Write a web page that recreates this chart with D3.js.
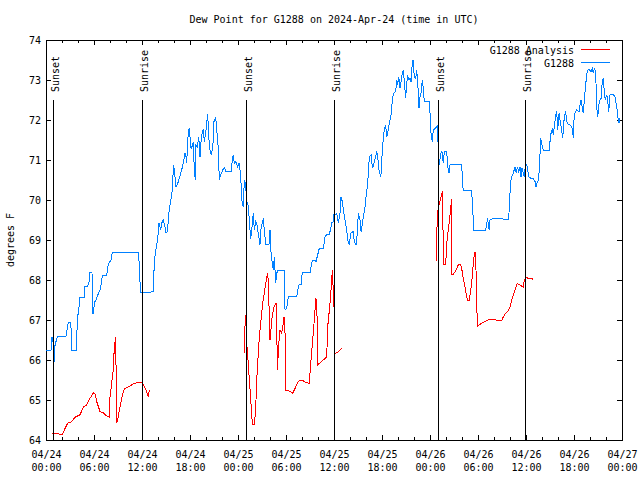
<!DOCTYPE html>
<html><head><meta charset="utf-8">
<script src="https://cdn.jsdelivr.net/npm/d3@7"></script>
<style>
body{margin:0;background:#fff;}
svg{display:block;font-family:"DejaVu Sans Mono",monospace;font-size:10px;}
</style></head><body>
<svg id="c" width="640" height="480"></svg>
<script>
// ---------------- DATA ----------------
const chartTitle = "Dew Point for G1288 on 2024-Apr-24 (time in UTC)";
const yAxisLabel = "degrees F";
const startUTC = Date.UTC(2024, 3, 24, 0, 0);
const endUTC = Date.UTC(2024, 3, 27, 0, 0);
const yTickValues = [64, 65, 66, 67, 68, 69, 70, 71, 72, 73, 74];
const seriesNames = ["G1288 Analysis", "G1288"];
// sun events, hours since 2024-04-24 00:00 UTC
const sunEventHours = [0.98, 12.0, 25.03, 36.03, 49.07, 59.95];
const sunEventLabels = ["Sunset", "Sunrise", "Sunset", "Sunrise", "Sunset", "Sunrise"];
const sunLineTop = 72.5;
// observed station G1288: [hours since start, dew point F]
const station = [[0.06,66.25],[0.63,66.25],[0.75,66.58],[0.94,66.38],[1.04,65.95],[1.13,66.38],[1.46,66.60],[2.50,66.60],[2.63,66.75],[2.79,66.93],[3.09,66.93],[3.19,66.58],[3.21,66.25],[3.81,66.25],[3.91,67.00],[4.13,67.33],[4.25,67.57],[4.79,67.57],[4.81,67.83],[5.19,67.83],[5.38,67.95],[5.50,68.19],[5.75,68.19],[5.79,67.17],[5.94,67.17],[6.04,67.43],[6.25,67.50],[6.38,67.58],[6.75,67.75],[6.88,67.88],[7.04,68.11],[7.59,68.11],[7.71,68.33],[7.88,68.43],[8.13,68.50],[8.29,68.69],[11.54,68.69],[11.63,68.46],[11.75,67.96],[11.84,67.69],[12.75,67.69],[12.88,67.68],[13.13,67.70],[13.41,67.71],[13.54,68.46],[13.71,68.71],[13.84,68.88],[14.04,69.17],[14.13,69.43],[14.25,69.33],[14.34,69.25],[14.46,69.42],[14.66,69.50],[14.88,69.33],[15.00,69.18],[15.21,69.21],[15.29,69.58],[15.50,69.88],[15.71,70.13],[15.84,70.33],[15.91,70.88],[16.04,70.75],[16.25,70.33],[16.41,70.38],[16.66,70.54],[16.96,70.75],[17.16,70.93],[17.38,71.17],[17.50,71.08],[17.59,70.93],[17.71,71.50],[17.88,71.79],[18.00,71.58],[18.13,71.29],[18.29,71.35],[18.41,71.46],[18.54,70.75],[18.66,70.50],[18.75,71.38],[18.91,71.33],[19.09,71.58],[19.25,71.08],[19.38,71.46],[19.54,71.71],[19.66,71.75],[19.79,71.46],[19.96,71.67],[20.09,71.92],[20.21,72.15],[20.34,71.58],[20.50,71.25],[20.66,71.13],[20.79,71.25],[20.91,71.50],[21.00,71.96],[21.21,72.07],[21.34,71.75],[21.54,71.29],[21.66,70.50],[21.75,70.58],[22.09,70.75],[22.29,70.81],[22.50,70.71],[23.13,70.71],[23.29,71.00],[23.41,71.13],[23.54,70.92],[23.75,70.96],[23.96,70.83],[24.13,70.92],[24.25,70.75],[24.38,70.42],[24.46,70.00],[24.66,69.83],[24.79,70.50],[24.96,70.42],[25.09,69.83],[25.21,69.96],[25.34,69.71],[25.50,69.25],[25.59,69.02],[25.75,69.33],[25.91,69.67],[26.04,69.25],[26.21,69.46],[26.34,69.42],[26.46,69.25],[26.63,69.04],[26.75,68.88],[26.88,69.29],[27.04,69.42],[27.16,69.54],[27.29,69.25],[27.46,68.90],[27.88,68.90],[28.00,69.25],[28.09,68.75],[28.29,68.42],[28.41,68.25],[28.54,68.58],[28.71,67.92],[28.84,68.17],[29.04,68.25],[29.75,68.25],[29.88,67.25],[30.09,67.29],[30.29,67.58],[31.34,67.58],[31.46,67.75],[31.63,67.88],[31.88,67.88],[32.04,68.19],[32.79,68.19],[33.00,68.18],[33.29,68.50],[33.54,68.50],[33.75,68.46],[33.96,68.63],[34.16,68.79],[34.66,68.79],[34.88,69.08],[35.09,69.13],[35.41,69.13],[35.59,69.29],[35.71,69.43],[35.91,69.46],[36.04,69.71],[36.16,69.63],[36.34,69.67],[36.54,69.42],[36.75,69.67],[36.88,70.08],[37.04,69.96],[37.21,69.71],[37.38,69.50],[37.59,69.25],[37.71,69.00],[37.91,68.88],[38.09,69.17],[38.41,69.21],[38.54,68.96],[38.75,68.88],[38.91,69.17],[39.04,69.67],[39.25,69.50],[39.38,69.21],[39.54,69.38],[39.66,69.58],[39.88,69.83],[40.00,70.08],[40.16,70.33],[40.29,70.63],[40.41,71.08],[40.63,71.13],[40.71,70.96],[40.84,70.79],[41.00,70.92],[41.21,71.08],[41.34,71.23],[41.46,71.08],[41.63,70.75],[41.84,70.58],[41.96,70.83],[42.04,71.33],[42.16,71.50],[42.29,71.77],[42.46,71.86],[42.59,71.58],[42.79,71.75],[42.91,71.92],[43.09,72.07],[43.21,72.25],[43.29,72.54],[43.50,72.67],[43.71,72.71],[43.84,73.00],[43.96,72.88],[44.09,73.08],[44.25,72.79],[44.41,73.00],[44.54,73.17],[44.66,73.25],[44.79,72.96],[44.96,72.54],[45.09,72.92],[45.21,73.08],[45.38,73.00],[45.50,73.04],[45.63,72.96],[45.75,73.33],[45.88,73.50],[46.04,73.08],[46.21,73.04],[46.34,73.25],[46.46,72.96],[46.63,72.29],[46.75,72.58],[46.88,72.67],[47.04,73.00],[47.16,72.79],[47.29,72.46],[47.91,72.46],[48.00,72.17],[48.13,71.67],[48.29,71.46],[48.41,71.75],[48.63,71.79],[48.84,71.83],[48.96,71.88],[49.04,71.08],[49.16,70.88],[49.34,71.17],[49.50,71.21],[49.66,70.92],[49.79,71.21],[50.09,71.21],[50.21,70.83],[50.38,70.67],[50.50,70.88],[51.96,70.88],[52.09,70.38],[52.16,70.23],[53.21,70.23],[53.29,69.96],[53.41,69.50],[53.50,69.23],[54.96,69.23],[55.09,69.42],[55.21,69.54],[55.29,69.35],[55.41,69.25],[55.50,69.50],[55.63,69.52],[56.00,69.54],[57.04,69.54],[57.16,69.52],[57.79,69.52],[57.91,69.75],[58.00,70.17],[58.13,70.50],[58.19,70.58],[58.41,70.67],[58.63,70.83],[58.79,70.67],[58.91,70.83],[59.09,70.71],[59.25,70.83],[59.38,70.58],[59.50,70.79],[59.66,70.67],[59.79,70.58],[59.91,70.83],[60.09,70.88],[60.21,70.75],[60.34,70.58],[60.63,70.54],[60.91,70.54],[61.13,70.46],[61.25,70.33],[61.38,70.42],[61.54,70.50],[61.66,70.75],[61.84,71.54],[61.96,71.42],[62.16,71.25],[62.91,71.25],[63.00,71.46],[63.13,71.67],[63.29,71.79],[63.41,71.63],[63.54,71.83],[63.71,72.13],[63.84,72.21],[63.96,71.75],[64.13,72.17],[64.25,72.00],[64.46,71.75],[64.59,71.54],[64.66,71.75],[64.79,72.08],[64.96,72.21],[65.09,71.96],[65.29,71.88],[65.50,71.88],[65.71,71.83],[65.84,71.75],[65.91,71.54],[66.00,72.00],[66.16,72.21],[66.34,72.25],[66.63,72.21],[66.75,72.38],[66.88,72.50],[67.04,72.29],[67.16,72.17],[67.29,72.50],[67.46,72.88],[67.59,73.13],[67.71,73.25],[67.88,73.27],[68.13,73.21],[68.29,73.29],[68.41,73.17],[68.54,73.29],[68.63,73.25],[68.75,72.92],[68.84,72.33],[68.96,72.08],[69.13,72.42],[69.25,72.50],[69.38,72.54],[69.50,72.88],[69.63,73.04],[69.75,72.79],[69.91,72.50],[70.09,72.63],[70.21,72.50],[70.34,72.21],[70.50,72.63],[70.91,72.63],[71.13,72.58],[71.34,72.33],[71.50,72.04],[71.63,71.92],[71.75,72.05]];
// analysis G1288: three separate runs
const analysisRun1 = [[0.79,64.17],[1.25,64.16],[2.04,64.14],[2.38,64.29],[2.71,64.42],[3.21,64.46],[3.63,64.57],[4.04,64.61],[4.25,64.63],[4.66,64.82],[5.09,64.88],[5.50,65.04],[5.91,65.18],[6.13,65.15],[6.34,64.96],[6.75,64.71],[7.16,64.68],[7.59,64.60],[7.88,64.57],[8.00,65.08],[8.21,65.42],[8.41,65.75],[8.54,66.33],[8.71,66.58],[8.84,64.42],[8.96,64.50],[9.25,64.83],[9.66,65.21],[9.88,65.29],[10.29,65.33],[10.91,65.40],[11.54,65.44],[11.96,65.44],[12.16,65.38],[12.38,65.29],[12.59,65.21],[12.79,65.07],[12.91,65.25]];
const analysisRun2 = [[24.75,66.17],[24.81,66.42],[24.88,66.88],[24.96,67.13],[25.04,66.75],[25.16,66.17],[25.29,65.92],[25.41,65.50],[25.59,65.04],[25.71,64.58],[25.84,64.38],[26.00,64.38],[26.13,64.58],[26.25,65.00],[26.41,65.79],[26.54,66.17],[26.66,66.55],[26.84,66.92],[26.96,67.17],[27.09,67.42],[27.25,67.63],[27.41,67.83],[27.59,68.08],[27.71,68.18],[27.79,67.92],[27.88,67.33],[28.00,66.50],[28.09,66.68],[28.21,67.00],[28.34,67.17],[28.50,67.33],[28.63,67.38],[28.75,67.42],[28.84,67.08],[28.91,65.75],[29.04,66.17],[29.16,66.58],[29.25,66.75],[29.46,66.67],[29.63,66.88],[29.75,67.08],[29.88,66.67],[29.91,65.25],[30.29,65.23],[30.71,65.19],[30.84,65.17],[31.13,65.29],[31.34,65.38],[31.54,65.46],[31.75,65.50],[32.16,65.48],[32.59,65.43],[32.88,65.42],[33.00,65.67],[33.09,65.92],[33.21,66.17],[33.29,66.42],[33.41,66.67],[33.63,67.25],[33.75,67.54],[33.91,67.00],[33.95,65.88],[34.25,65.93],[34.66,66.00],[34.88,66.04],[35.09,66.08],[35.21,66.83],[35.38,67.17],[35.50,67.42],[35.63,67.75],[35.71,68.00],[35.79,68.25],[35.91,67.75],[36.00,67.33],[36.04,66.17],[36.25,66.17],[36.54,66.21],[36.88,66.27],[36.96,66.30]];
const analysisRun3 = [[48.75,68.45],[48.84,69.17],[48.96,69.71],[49.04,69.79],[49.16,69.92],[49.34,70.04],[49.50,70.17],[49.59,70.21],[49.66,68.39],[49.88,68.39],[50.00,68.54],[50.16,69.08],[50.34,69.33],[50.50,69.63],[50.63,69.88],[50.71,70.03],[50.75,68.13],[50.91,68.14],[51.13,68.21],[51.34,68.29],[51.54,68.38],[51.84,68.39],[51.96,68.29],[52.16,68.04],[52.38,67.83],[52.59,67.58],[52.71,67.48],[52.91,67.48],[53.00,67.63],[53.21,67.92],[53.34,68.25],[53.50,68.58],[53.63,68.71],[53.75,68.25],[53.84,67.31],[53.96,66.85],[54.16,66.88],[54.46,66.92],[54.88,66.96],[55.29,67.00],[55.59,67.02],[56.13,67.02],[56.34,66.99],[56.96,66.99],[57.16,67.08],[57.50,67.18],[57.79,67.23],[58.00,67.33],[58.21,67.50],[58.41,67.63],[58.63,67.75],[58.91,67.92],[59.16,67.88],[59.44,67.85],[59.66,67.82],[59.79,68.00],[60.00,68.07],[60.29,68.04],[60.71,68.03],[60.91,68.02]];

// ---------------- DRAW ----------------
const svg = d3.select("#c");
const L = 46, R = 622, T = 40, B = 440;
const FONT = "DejaVu Sans Mono";
const x = d3.scaleUtc().domain([new Date(startUTC), new Date(endUTC)]).range([L, R]);
const y = d3.scaleLinear().domain([64, 74]).range([B, T]);
const toDate = h => new Date(startUTC + h * 3600000);
const majorTicks = d3.utcHour.every(6).range(new Date(startUTC), new Date(endUTC + 1));
const minorTicks = d3.utcHour.every(2).range(new Date(startUTC), new Date(endUTC + 1));
const fmtDay = d3.utcFormat("%m/%d"), fmtTime = d3.utcFormat("%H:%M");

function styleAxis(g){
  g.attr("font-family", FONT).attr("font-size", 10);
  g.select(".domain").remove();
  g.selectAll("line").attr("shape-rendering", "crispEdges");
}
// bottom
svg.append("g").attr("transform", `translate(0,${B})`)
  .call(d3.axisBottom(x).tickValues(minorTicks).tickSize(-3).tickFormat("")).call(styleAxis);
const gB = svg.append("g").attr("transform", `translate(0,${B})`)
  .call(d3.axisBottom(x).tickValues(majorTicks).tickSize(-5).tickFormat(fmtDay)).call(styleAxis);
gB.selectAll(".tick text").each(function(d){
  const t = d3.select(this).text(null).attr("y", null).attr("dy", null).attr("fill", "#000");
  t.append("tspan").attr("x", 0).attr("y", 18).text(fmtDay(d));
  t.append("tspan").attr("x", 0).attr("y", 30.5).text(fmtTime(d));
});
// top (mirror)
svg.append("g").attr("transform", `translate(0,${T})`)
  .call(d3.axisTop(x).tickValues(minorTicks).tickSize(-3).tickFormat("")).call(styleAxis);
svg.append("g").attr("transform", `translate(0,${T})`)
  .call(d3.axisTop(x).tickValues(majorTicks).tickSize(-5).tickFormat("")).call(styleAxis);
// left
const gL = svg.append("g").attr("transform", `translate(${L},0)`)
  .call(d3.axisLeft(y).tickValues(yTickValues).tickSize(-5).tickPadding(5).tickFormat(d3.format("d"))).call(styleAxis);
gL.selectAll(".tick text").attr("fill", "#000");
// right
svg.append("g").attr("transform", `translate(${R},0)`)
  .call(d3.axisRight(y).tickValues(yTickValues).tickSize(-5).tickFormat("")).call(styleAxis);

// border
svg.append("rect").attr("x", L).attr("y", T).attr("width", R - L).attr("height", B - T)
  .attr("fill", "none").attr("stroke", "#000").attr("shape-rendering", "crispEdges");

// data lines
const line = d3.line().x(d => x(toDate(d[0]))).y(d => y(d[1]));
[analysisRun1, analysisRun2, analysisRun3].forEach(run => {
  svg.append("path").datum(run).attr("d", line)
    .attr("fill", "none").attr("stroke", "#ff0000").attr("stroke-width", 1)
    .attr("shape-rendering", "crispEdges");
});
svg.append("path").datum(station).attr("d", line)
  .attr("fill", "none").attr("stroke", "#0080ff").attr("stroke-width", 1)
  .attr("shape-rendering", "crispEdges");

// sunrise / sunset markers
sunEventHours.forEach((h, i) => {
  const xp = x(toDate(h));
  svg.append("line").attr("x1", xp).attr("x2", xp).attr("y1", y(64)).attr("y2", y(sunLineTop))
    .attr("stroke", "#000").attr("stroke-width", 1).attr("shape-rendering", "crispEdges");
  svg.append("text").attr("transform", `translate(${xp + 5.5},92) rotate(-90)`)
    .attr("text-anchor", "start").attr("font-family", FONT).attr("font-size", 10)
    .text(sunEventLabels[i]);
});

// title
svg.append("text").attr("x", 334).attr("y", 23).attr("text-anchor", "middle")
  .attr("font-family", FONT).attr("font-size", 10).text(chartTitle);
// y label
svg.append("text").attr("transform", "translate(14,240) rotate(-90)").attr("text-anchor", "middle")
  .attr("font-family", FONT).attr("font-size", 10).text(yAxisLabel);

// legend
const legendColors = ["#ff0000", "#0080ff"];
seriesNames.forEach((n, i) => {
  const yy = 53.5 + i * 13;
  svg.append("text").attr("x", 574).attr("y", yy).attr("text-anchor", "end")
    .attr("font-family", FONT).attr("font-size", 10).text(n);
  svg.append("line").attr("x1", 581).attr("x2", 610).attr("y1", yy - 4).attr("y2", yy - 4)
    .attr("stroke", legendColors[i]).attr("shape-rendering", "crispEdges");
});
</script>
</body></html>
